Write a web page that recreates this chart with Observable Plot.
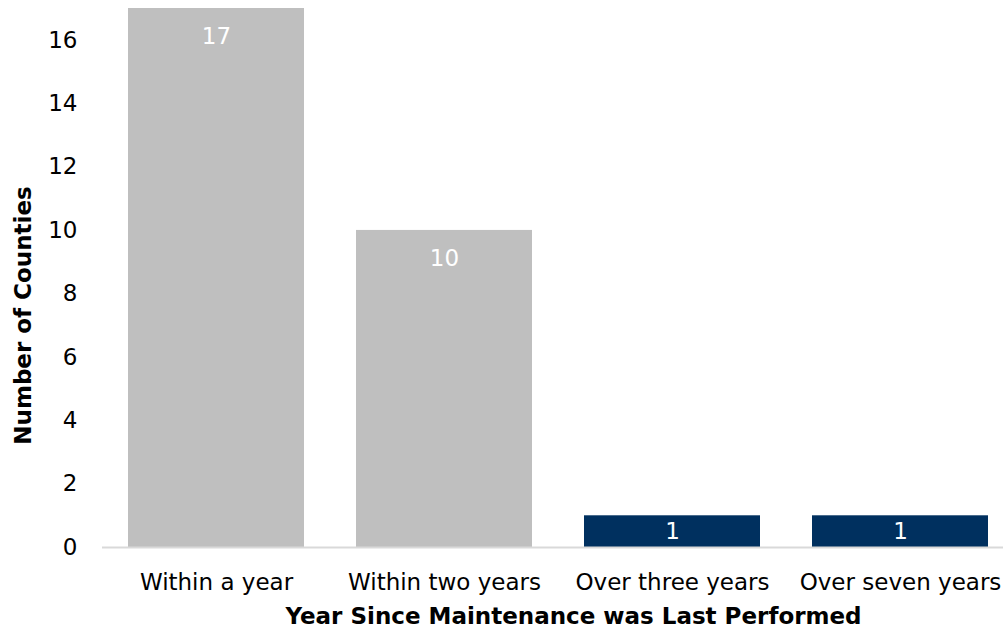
<!DOCTYPE html>
<html>
<head>
<meta charset="utf-8">
<script src="https://cdn.jsdelivr.net/npm/d3@7"></script>
<script src="https://cdn.jsdelivr.net/npm/@observablehq/plot@0.6"></script>
<style>
  html, body { margin: 0; padding: 0; background: #fff; }
  svg { display: block; }
</style>
</head>
<body>
<div id="chart"></div>
<script>
const categories = ["Within a year", "Within two years", "Over three years", "Over seven years"];
const values = [17, 10, 1, 1];
const groups = ["recent", "recent", "old", "old"];
const yTicks = [0, 2, 4, 6, 8, 10, 12, 14, 16];
const xTitle = "Year Since Maintenance was Last Performed";
const yTitle = "Number of Counties";

const data = categories.map((c, i) => ({category: c, value: values[i], group: groups[i]}));
const font = "'DejaVu Sans', sans-serif";
const fs = 23;

const chart = Plot.plot({
  width: 1003,
  height: 631,
  marginLeft: 102,
  marginRight: -11,
  marginTop: 8,
  marginBottom: 84,
  style: {fontFamily: font, fontSize: fs + "px", color: "#000", background: "#fff"},
  x: {domain: categories, paddingInner: 0.228, paddingOuter: 0.114, label: null},
  y: {domain: [0, 17], label: null},
  color: {domain: ["recent", "old"], range: ["#bfbfbf", "#00305f"]},
  marks: [
    Plot.barY(data, {x: "category", y: "value", fill: "group"}),
    Plot.ruleY([0], {stroke: "#d9d9d9", strokeWidth: 2}),
    Plot.axisY({ticks: yTicks, tickSize: 0, tickPadding: 25, label: null, fontSize: fs, fill: "#000"}),
    Plot.axisX({tickSize: 0, tickPadding: 26, label: null, fontSize: fs, fill: "#000"}),
    Plot.text(data, {
      x: "category",
      y: d => Math.max(d.value - 0.9, d.value / 2),
      text: d => String(d.value),
      fill: "#fff",
      fontSize: fs,
      lineAnchor: "middle"
    }),
    Plot.text([xTitle], {frameAnchor: "bottom", textAnchor: "middle", lineAnchor: "middle", dx: 15, dy: 69, fontWeight: "bold", fontSize: fs, fill: "#000"}),
    Plot.text([yTitle], {frameAnchor: "left", textAnchor: "middle", lineAnchor: "middle", rotate: -90, dx: -79, dy: 37.5, fontWeight: "bold", fontSize: fs, fill: "#000"})
  ]
});
document.getElementById("chart").appendChild(chart);
</script>
</body>
</html>
